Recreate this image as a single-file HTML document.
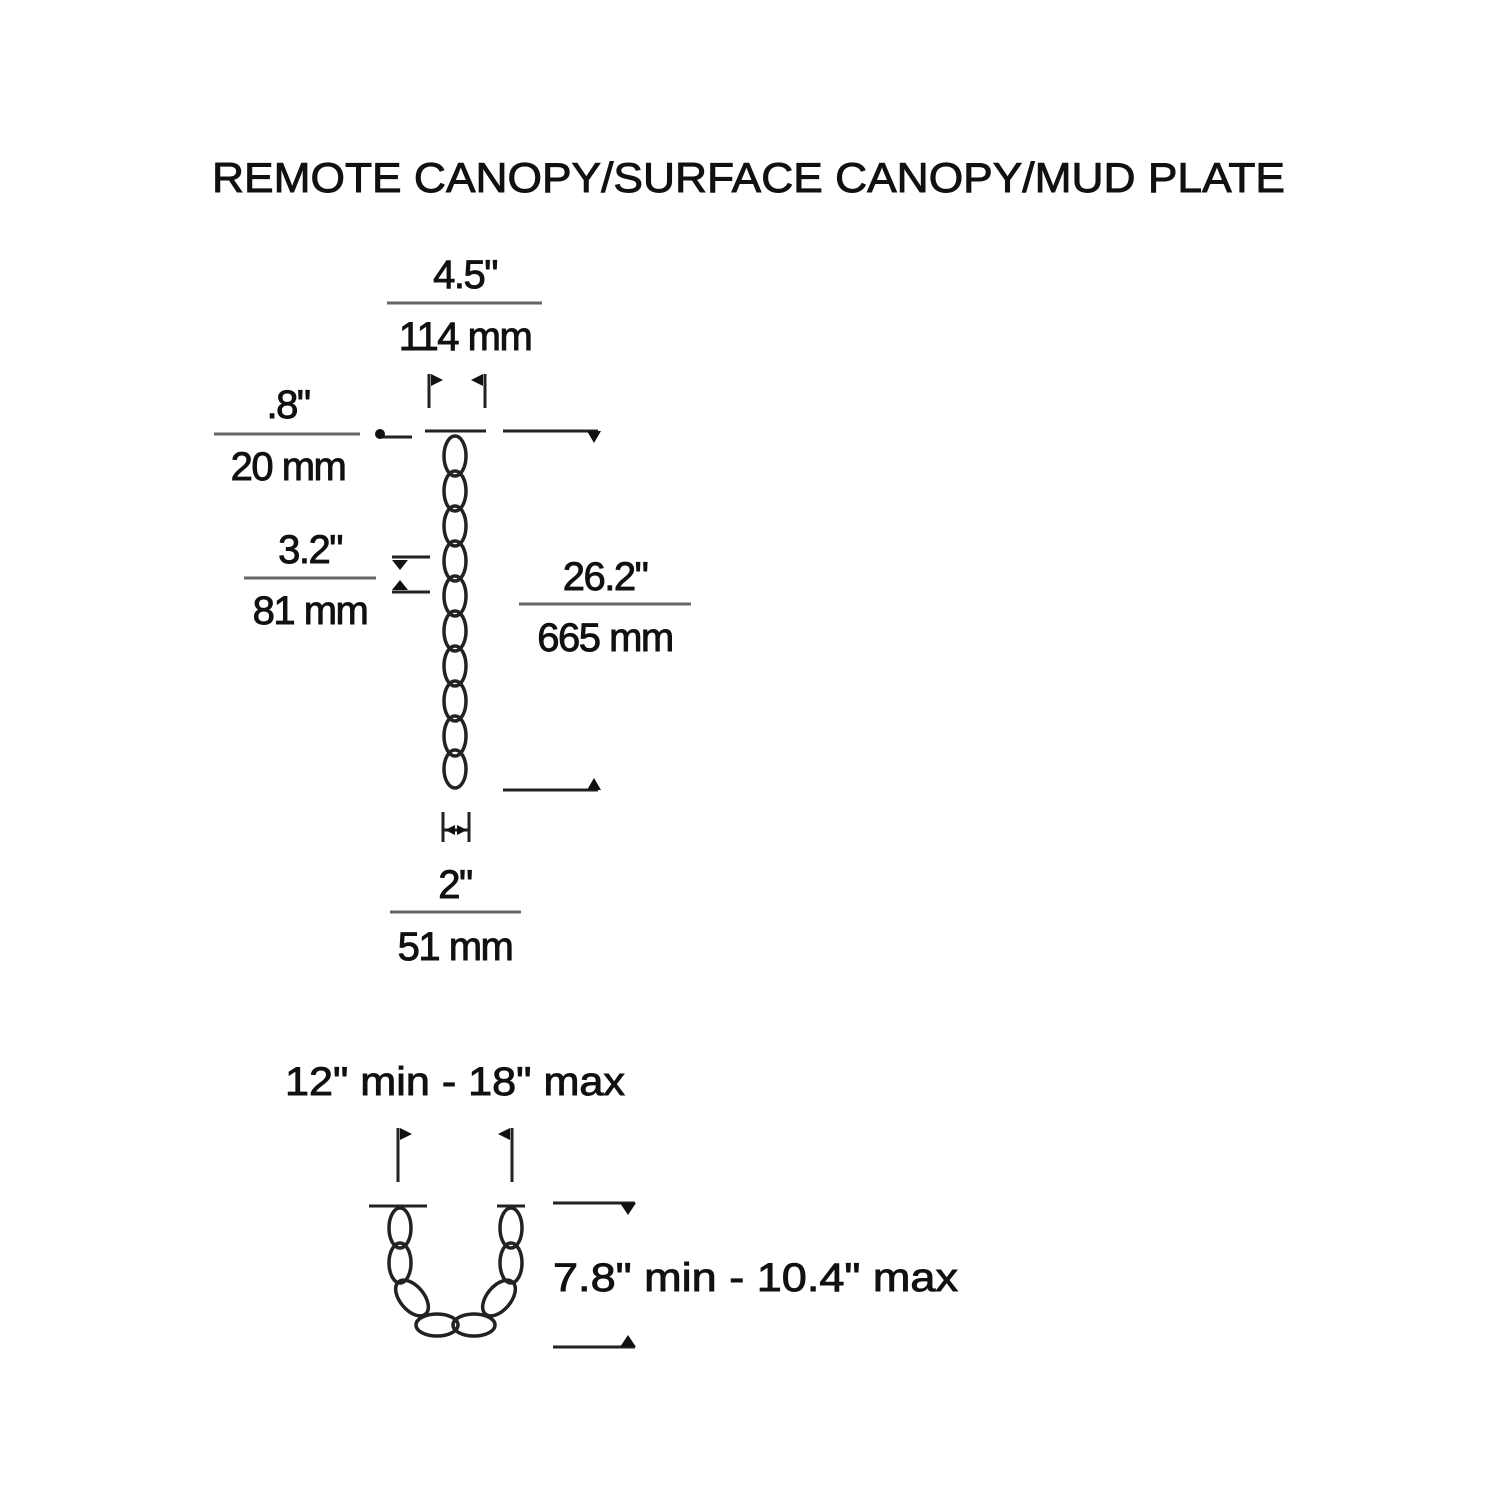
<!DOCTYPE html>
<html><head><style>html,body{margin:0;padding:0;background:#fff}svg{display:block}</style></head><body>
<svg width="1500" height="1500" viewBox="0 0 1500 1500" xmlns="http://www.w3.org/2000/svg" font-family="Liberation Sans, sans-serif" fill="#111">
<g stroke="#111" stroke-width="0.9">
<text x="212" y="192" font-size="42" textLength="1073" lengthAdjust="spacingAndGlyphs">REMOTE CANOPY/SURFACE CANOPY/MUD PLATE</text>
<g font-size="40" text-anchor="middle" letter-spacing="-1.5">
<text x="465" y="288">4.5"</text>
<text x="465" y="350">114 mm</text>
<text x="288" y="418">.8"</text>
<text x="288" y="480">20 mm</text>
<text x="310" y="563">3.2"</text>
<text x="310" y="624">81 mm</text>
<text x="605" y="590">26.2"</text>
<text x="605" y="651">665 mm</text>
<text x="455" y="898">2"</text>
<text x="455" y="960">51 mm</text>
</g>
<text x="285" y="1095" font-size="40" textLength="340" lengthAdjust="spacingAndGlyphs">12" min - 18" max</text>
<text x="553" y="1291" font-size="40" textLength="405" lengthAdjust="spacingAndGlyphs">7.8" min - 10.4" max</text>
</g>
<g stroke="#666" stroke-width="3">
<line x1="387" y1="303" x2="542" y2="303"/>
<line x1="214" y1="434" x2="360" y2="434"/>
<line x1="244" y1="578" x2="376" y2="578"/>
<line x1="519" y1="604" x2="691" y2="604"/>
<line x1="390" y1="912" x2="521" y2="912"/>
</g>
<g stroke="#222" stroke-width="3" fill="none">
<line x1="429" y1="374" x2="429" y2="408"/><line x1="485" y1="374" x2="485" y2="408"/>
<line x1="425" y1="431" x2="486" y2="431"/>
<line x1="503" y1="431" x2="598" y2="431"/>
<line x1="503" y1="790" x2="598" y2="790"/>
<line x1="380" y1="437" x2="412" y2="437"/>
<line x1="392" y1="557" x2="430" y2="557"/><line x1="392" y1="592" x2="430" y2="592"/>
<line x1="443" y1="812" x2="443" y2="842"/><line x1="469" y1="812" x2="469" y2="842"/>
<line x1="443" y1="830" x2="469" y2="830"/>
<line x1="398" y1="1128" x2="398" y2="1182"/><line x1="512" y1="1128" x2="512" y2="1182"/>
<line x1="369" y1="1206" x2="427" y2="1206"/><line x1="497" y1="1206" x2="525" y2="1206"/>
<line x1="553" y1="1203" x2="635" y2="1203"/>
<line x1="553" y1="1347" x2="635" y2="1347"/>
<g stroke-width="3.5">
<ellipse cx="455" cy="456" rx="11" ry="20"/><ellipse cx="455" cy="491" rx="11" ry="20"/>
<ellipse cx="455" cy="526" rx="11" ry="20"/><ellipse cx="455" cy="561" rx="11" ry="20"/>
<ellipse cx="455" cy="596" rx="11" ry="20"/><ellipse cx="455" cy="631" rx="11" ry="20"/>
<ellipse cx="455" cy="666" rx="11" ry="20"/><ellipse cx="455" cy="701" rx="11" ry="20"/>
<ellipse cx="455" cy="736" rx="11" ry="20"/><ellipse cx="455" cy="769" rx="11" ry="19"/>
<ellipse cx="400" cy="1228" rx="11" ry="20"/><ellipse cx="400" cy="1263" rx="11" ry="20"/>
<ellipse cx="511" cy="1228" rx="11" ry="20"/><ellipse cx="511" cy="1263" rx="11" ry="20"/>
<ellipse cx="412" cy="1298" rx="12" ry="21" transform="rotate(-40 412 1298)"/>
<ellipse cx="499" cy="1298" rx="12" ry="21" transform="rotate(40 499 1298)"/>
<ellipse cx="437" cy="1325" rx="21" ry="11"/><ellipse cx="474" cy="1325" rx="21" ry="11"/>
</g>
</g>
<g fill="#111">
<polygon points="431,374 431,386 443,380"/><polygon points="483,374 483,386 471,380"/>
<polygon points="587,431 601,431 594,443"/>
<polygon points="587,790 601,790 594,778"/>
<circle cx="380" cy="434" r="5"/>
<polygon points="392,560 408,560 400,570"/><polygon points="392,590 408,590 400,580"/>
<polygon points="445,830 455,825 455,835"/><polygon points="467,830 457,825 457,835"/>
<polygon points="400,1128 400,1140 412,1134"/><polygon points="510,1128 510,1140 498,1134"/>
<polygon points="620,1203 636,1203 628,1215"/>
<polygon points="620,1347 636,1347 628,1335"/>
</g>
</svg>
</body></html>
